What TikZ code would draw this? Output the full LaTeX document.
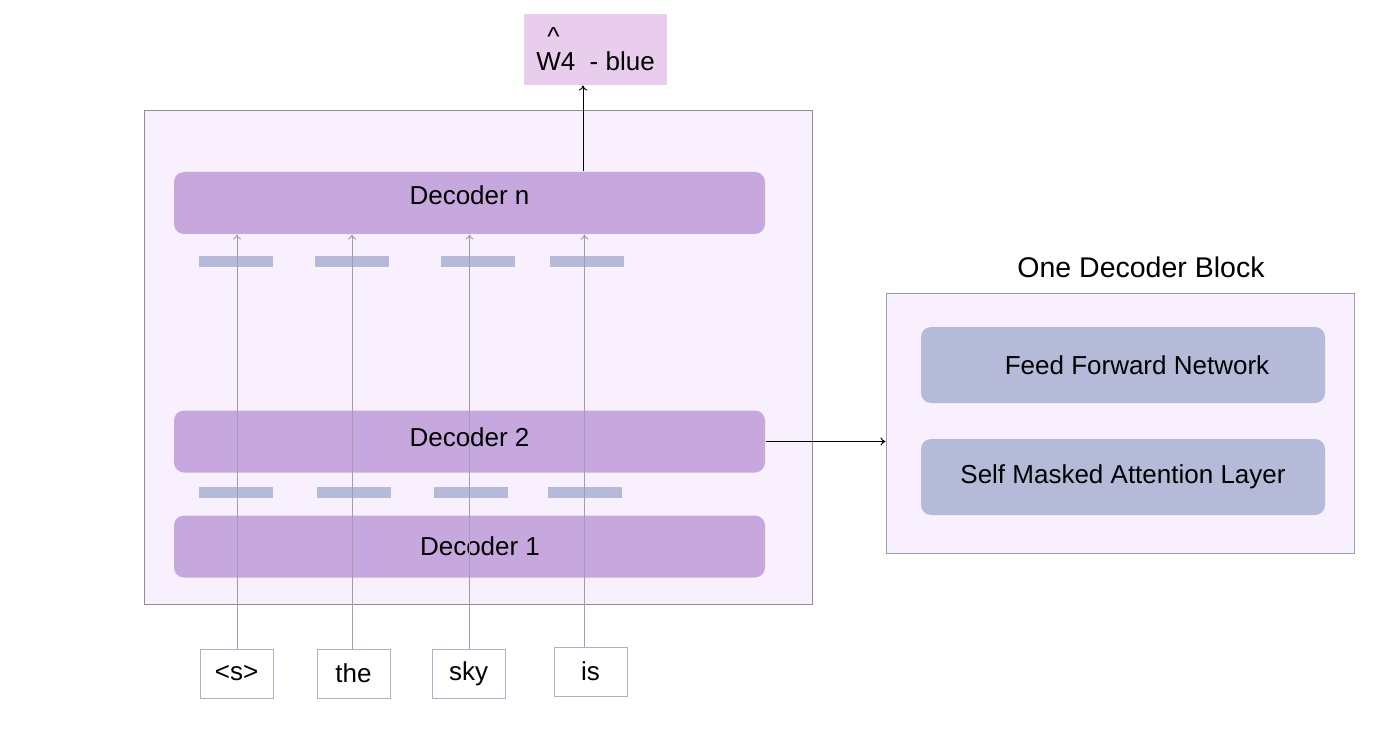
\documentclass[tikz,border=0pt]{standalone}
\usepackage{fontspec}
\setmainfont{Liberation Sans}
\usetikzlibrary{positioning}
\usetikzlibrary{arrows.meta}

\definecolor{framefill}{HTML}{F8F0FC}
\definecolor{framegray}{HTML}{8E8C98}
\definecolor{blockedge}{HTML}{9C9ABA}
\definecolor{decfill}{HTML}{C6A8DF}
\definecolor{barfill}{HTML}{B5BAD8}
\definecolor{outfill}{HTML}{E8CDEC}
\definecolor{tokenedge}{HTML}{B4ACCB}
\definecolor{arrowgray}{HTML}{A29EB2}

\begin{document}
\begin{tikzpicture}[x=1pt, y=-1pt,
                    every node/.append style={font=\fontsize{26}{28}\selectfont, inner sep=0pt},
                    titlelabel/.style={font=\fontsize{28.5}{30}\selectfont},
                    frame/.style={rectangle, draw=framegray, fill=framefill},
                    blockframe/.style={frame, draw=blockedge},
                    decoder/.style={rectangle, rounded corners=10pt, fill=decfill, minimum width=591pt, minimum height=62pt},
                    layerbox/.style={rectangle, rounded corners=10pt, fill=barfill, minimum width=404pt, minimum height=76pt},
                    bar/.style={rectangle, fill=barfill, minimum width=74pt, minimum height=11pt},
                    token/.style={rectangle, draw=tokenedge, fill=white, minimum width=73pt, minimum height=49pt},
                    outbox/.style={rectangle, fill=outfill, minimum width=143pt, minimum height=71pt, align=left, font=\fontsize{26}{25}\selectfont},
                    feed/.style={draw=arrowgray, -{To[length=5pt, width=8pt]}},
                    link/.style={draw=black, -{To[length=5pt, width=8pt]}},
                    every path/.append style={line width=1pt}]
    \fill [white] (0,0) rectangle (1400,730);
    \useasboundingbox (0,0) rectangle (1400,730);

    % Decoder stack
    \node [frame, anchor=north west, minimum width=668pt, minimum height=494pt] (stack) at (144,110) {};
    \node [decoder] (decn) at (469.5,203) {\raisebox{16pt}{Decoder n}};
    \node [decoder] (dec2) at (469.5,441.5) {\raisebox{8pt}{Decoder 2}};
    \node [decoder, below=42pt of dec2] (dec1) {\hspace*{21pt}Decoder 1};

    % Embedding bars
    \foreach \x [count=\i] in {236,352,478,587}
        \node [bar] (bart\i) at (\x,261.5) {};
    \foreach \x [count=\i] in {236,354,471,585}
        \node [bar] (barb\i) at (\x,492.5) {};

    % Input tokens
    \node [token] (tok1) at (236.5,673.5) {<s>};
    \node [token, right=43pt of tok1] (tok2) {the};
    \node [token, right=41pt of tok2] (tok3) {sky};
    \node [token, right=48pt of tok3, yshift=2pt] (tok4) {is};

    % Output word
    \node [outbox] (out) at (595.5,49.5) {\hspace{11pt}\textasciicircum\\W4\ \ - blue};

    % One decoder block
    \node [blockframe, minimum width=468pt, minimum height=260pt] (block) at (1120,423) {};
    \node [titlelabel, above=14pt of block, xshift=21pt] (blocktitle) {One Decoder Block};
    \node [layerbox] (ffn) at (1123,365) {\hspace*{28pt}Feed Forward Network};
    \node [layerbox, below=35pt of ffn] (sma) {Self Masked Attention Layer};

    % Draw the arrows
    \foreach \i/\dx in {1/0.5,2/-1.5,3/1,4/-6}
        \draw [feed] ([xshift=\dx pt]tok\i.north) -- ([xshift=\dx pt]tok\i.north |- decn.south);
    \draw [link] ([xshift=-12.5pt]out.south |- decn.north) -- ([xshift=-12.5pt]out.south);
    \draw [link] (dec2.east) -- (dec2.east -| block.west);
\end{tikzpicture}
\end{document}
